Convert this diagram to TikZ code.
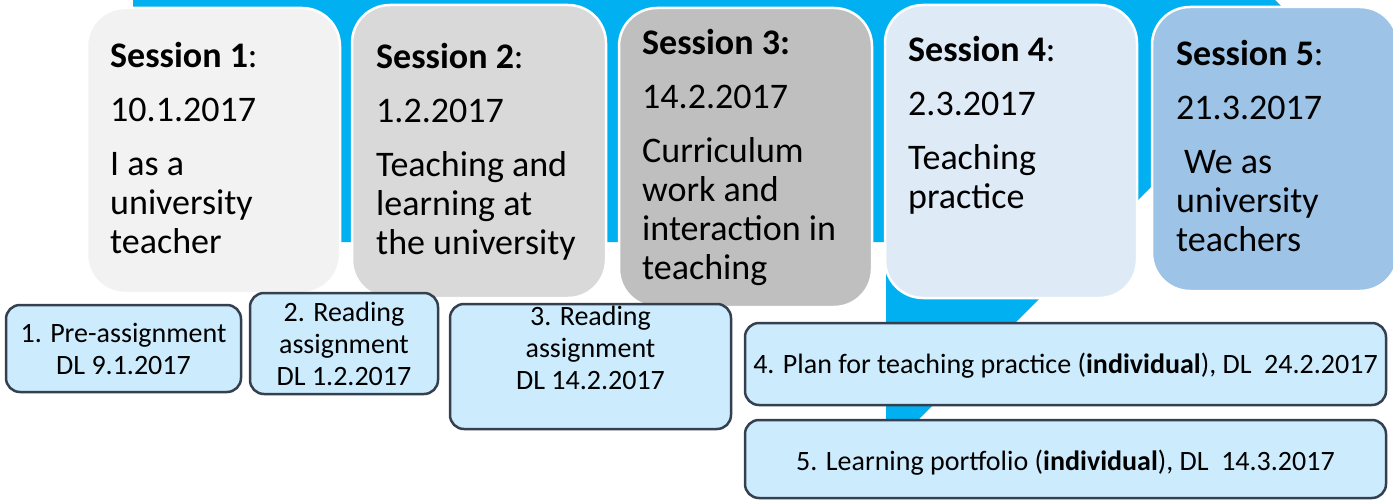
\documentclass[tikz,border=0pt]{standalone}
\usepackage{fontspec}
\setmainfont{Carlito}
\usetikzlibrary{positioning}

\definecolor{bandblue}{HTML}{00B0F0}
\definecolor{greyA}{HTML}{F2F2F2}
\definecolor{greyB}{HTML}{D9D9D9}
\definecolor{greyC}{HTML}{BFBFBF}
\definecolor{paleblue}{HTML}{DEEBF7}
\definecolor{midblue}{HTML}{9DC3E6}
\definecolor{taskfill}{HTML}{CCEBFC}
\definecolor{taskline}{HTML}{343F4F}

% text of one session card, first baseline on the node's base
\newcommand{\sessiontext}[1]{\parbox[t]{250pt}{\fontsize{36}{39}\selectfont #1}}

\begin{document}
\begin{tikzpicture}[x=1pt,y=-1pt,
    session/.style={rectangle, rounded corners=38pt, draw=white, line width=2.5pt},
    sesstext/.style={anchor=base west, inner sep=0pt},
    tasktext/.style={align=center, font=\fontsize{28}{32}\selectfont, inner sep=0pt},
    task/.style={tasktext, rectangle, rounded corners=14pt, draw=taskline, line width=2.5pt, fill=taskfill}]
    \useasboundingbox (0,0) rectangle (1393,500);

    % blue band behind the cards
    \fill[bandblue] (133,0) -- (1275,0) -- (1306.5,31.5) -- (886,452) -- (886,242) -- (133,242) -- cycle;

    % sessions
    \node[session, fill=greyA, minimum width=253pt, minimum height=285pt] (s1) at (213.5,150.5) {};
    \node[session, fill=greyB, minimum width=254pt, minimum height=293pt] (s2) at (479,151.5) {};
    \node[session, fill=greyC, minimum width=253pt, minimum height=299pt] (s3) at (745.5,157.5) {};
    \node[session, fill=paleblue, minimum width=252pt, minimum height=293pt] (s4) at (1011,151.5) {};
    \node[session, fill=midblue, minimum width=246pt, minimum height=284pt] (s5) at (1275,149) {};

    \node[sesstext] (t1) at (110,68) {\sessiontext{\textbf{Session 1}:\\[15pt]10.1.2017\\[15pt]I as a\\university\\teacher}};
    \node[sesstext] (t2) at (376,69) {\sessiontext{\textbf{Session 2}:\\[15pt]1.2.2017\\[15pt]Teaching and\\learning at\\the university}};
    \node[sesstext] (t3) at (642,55) {\sessiontext{\textbf{Session 3:}\\[15pt]14.2.2017\\[15pt]Curriculum\\work and\\interaction in\\teaching}};
    \node[sesstext] (t4) at (908,62) {\sessiontext{\textbf{Session 4}:\\[15pt]2.3.2017\\[15pt]Teaching\\practice}};
    \node[sesstext] (t5) at (1176,66) {\sessiontext{\textbf{Session 5}:\\[15pt]21.3.2017\\[15pt]\hspace*{8pt}We as\\university\\teachers}};

    % assignments
    \node[task, minimum width=235pt, minimum height=87pt] (a1) at (123.5,348.5) {1. Pre-assignment\\DL 9.1.2017};
    \node[task, minimum width=188pt, minimum height=101pt] (a2) at (344,343.5) {2. Reading\\assignment\\DL 1.2.2017};
    \node[task, minimum width=281pt, minimum height=125pt] (a3) at (590.5,366.5) {};
    \node[tasktext, below=3.5pt of a3.north] (a3txt) {3. Reading\\assignment\\DL 14.2.2017};
    \node[task, minimum width=641pt, minimum height=82pt, text height=23pt] (a4) at (1065.5,364) {4. Plan for teaching practice (\textbf{individual}), DL~~24.2.2017};
    \node[task, minimum width=641pt, minimum height=78pt, text height=28pt] (a5) at (1065.5,459) {5. Learning portfolio (\textbf{individual}), DL~~14.3.2017};
\end{tikzpicture}
\end{document}
